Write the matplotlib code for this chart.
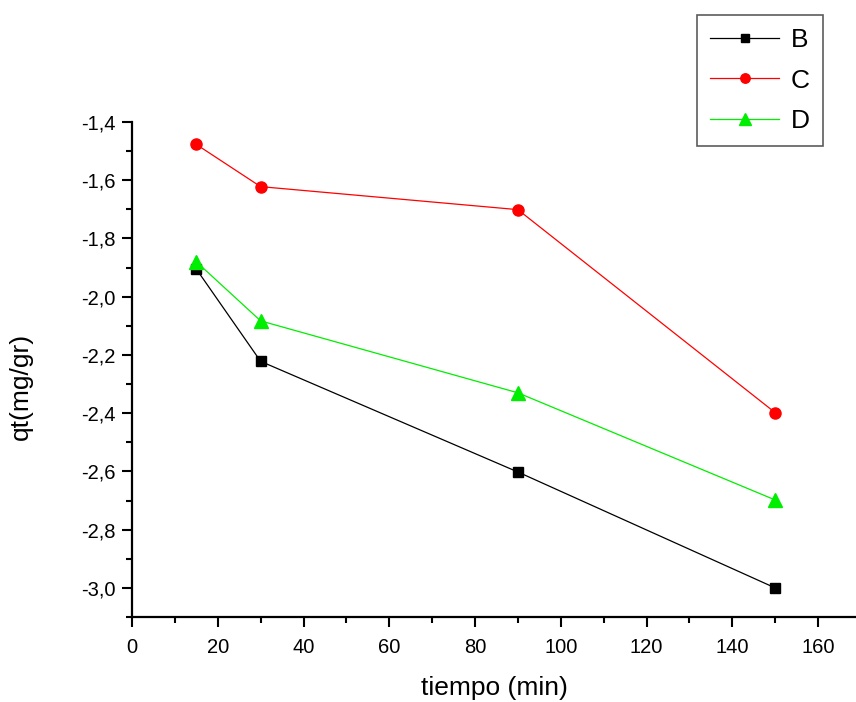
import matplotlib
matplotlib.use('Agg')
import matplotlib.pyplot as plt
from matplotlib.ticker import MultipleLocator, FuncFormatter

plt.rcParams['font.family'] = ['Liberation Sans', 'DejaVu Sans']

# datos
tiempo = [15, 30, 90, 150]
qt_B = [-1.905, -2.222, -2.602, -3.0]
qt_C = [-1.477, -1.622, -1.701, -2.398]
qt_D = [-1.880, -2.083, -2.330, -2.698]

fig = plt.figure(figsize=(8.56, 7.02), dpi=100)
ax = fig.add_axes([132/856, 85/702, 1 - 132/856, 495/702])

ax.plot(tiempo, qt_B, color='black', lw=0.9, marker='s', ms=7.5, label='B', clip_on=False)
ax.plot(tiempo, qt_C, color='red', lw=0.9, marker='o', ms=8, label='C', clip_on=False)
ax.plot(tiempo, qt_D, color='#00ee00', lw=0.9, marker='^', ms=9.5, label='D', clip_on=False)

ax.set_xlim(0, 724/4.2875)
ax.set_ylim(-3.1, -1.4)

ax.xaxis.set_major_locator(MultipleLocator(20))
ax.xaxis.set_minor_locator(MultipleLocator(10))
ax.yaxis.set_major_locator(MultipleLocator(0.2))
ax.yaxis.set_minor_locator(MultipleLocator(0.1))
ax.yaxis.set_major_formatter(FuncFormatter(lambda v, p: f'{v:.1f}'.replace('.', ',')))

for s in ['top', 'right']:
    ax.spines[s].set_visible(False)
for s in ['left', 'bottom']:
    ax.spines[s].set_linewidth(1.6)

ax.tick_params(which='major', direction='out', length=7, width=1.5, labelsize=14.5, pad=5)
ax.tick_params(axis='x', which='major', pad=8)
ax.tick_params(which='minor', direction='out', length=4, width=1.5)

ax.set_xlabel('tiempo (min)', fontsize=19, labelpad=14)
ax.set_ylabel('qt(mg/gr)', fontsize=19)
ax.yaxis.set_label_coords(-0.137, 0.465)

leg = fig.legend(loc='upper left', bbox_to_anchor=(697/856, 1 - 15/702), fontsize=19,
                 handlelength=2.6, labelspacing=0.62, frameon=True, fancybox=False,
                 edgecolor='#333333', borderpad=0.5, handletextpad=0.45, borderaxespad=0,
                 markerscale=0.85)
leg.get_frame().set_linewidth(1.2)

plt.savefig('out.png', dpi=100)
